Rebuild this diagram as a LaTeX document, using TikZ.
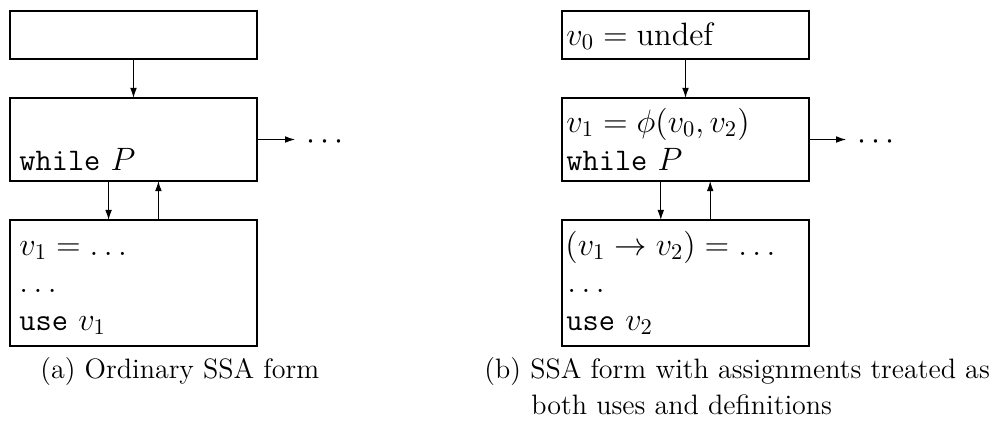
\documentclass[tikz,border=0pt]{standalone}
\usetikzlibrary{arrows.meta}
\tikzset{
  box/.style={draw, line width=0.5pt, inner sep=0pt, outer sep=0pt, minimum width=109.96pt},
  arr/.style={line width=0.5pt, -{Latex[length=4.5pt,width=3pt]}},
  txt/.style={anchor=base west, inner sep=0pt, font=\fontsize{14}{17}\selectfont},
  captext/.style={anchor=base west, inner sep=0pt, font=\fontsize{12.5}{15}\selectfont},
  dotsnode/.style={inner sep=0pt, font=\fontsize{14}{17}\selectfont}
}
\begin{document}
\begin{tikzpicture}[x=0.4452pt, y=-0.4452pt]
\useasboundingbox (0,0) rectangle (997,425);
% ---------- left panel ----------
\node[box, minimum height=21.37pt] (LA) at (133.5,35) {};
\node[box, minimum height=36.95pt] (LB) at (133.5,139.5) {};
\node[box, minimum height=56.1pt]  (LC) at (133.5,283) {};
\node[txt] (lb2) at (19,170) {\texttt{while} $P$};
\node[txt] (lc1) at (19,255) {$v_1 = \ldots$};
\node[txt] (lc2) at (19,292) {$\ldots$};
\node[txt] (lc3) at (19,330) {\texttt{use} $v_1$};
\node[dotsnode] (ld) at (325,142) {$\cdots$};
\draw[arr] (LA.south) -- (LB.north);
\draw[arr] ([xshift=-11.1pt]LB.south) -- ([xshift=-11.1pt]LC.north);
\draw[arr] ([xshift=11.1pt]LC.north) -- ([xshift=11.1pt]LB.south);
\draw[arr] (LB.east) -- ([xshift=-4.7pt]ld.west |- LB.east);
% ---------- right panel ----------
\node[box, minimum height=21.37pt] (RA) at (685.5,35) {};
\node[box, minimum height=36.95pt] (RB) at (685.5,139.5) {};
\node[box, minimum height=56.1pt]  (RC) at (685.5,283) {};
\node[txt] (ra1) at (566,45) {$v_0 = \mathrm{undef}$};
\node[txt] (rb1) at (566,132) {$v_1 = \phi(v_0, v_2)$};
\node[txt] (rb2) at (566,170) {\texttt{while} $P$};
\node[txt] (rc1) at (565,255) {$(v_1 \rightarrow v_2) = \ldots$};
\node[txt] (rc2) at (567,292) {$\ldots$};
\node[txt] (rc3) at (566,330) {\texttt{use} $v_2$};
\node[dotsnode] (rd) at (876,142) {$\cdots$};
\draw[arr] (RA.south) -- (RB.north);
\draw[arr] ([xshift=-11pt]RB.south) -- ([xshift=-11pt]RC.north);
\draw[arr] ([xshift=11pt]RC.north) -- ([xshift=11pt]RB.south);
\draw[arr] (RB.east) -- ([xshift=-4.7pt]rd.west |- RB.east);
% ---------- captions ----------
\node[captext] (capa) at (40,378) {(a) Ordinary SSA form};
\node[captext] (capb1) at (484,378) {(b) SSA form with assignments treated as};
\node[captext] (capb2) at (531,414) {both uses and definitions};
\end{tikzpicture}
\end{document}
